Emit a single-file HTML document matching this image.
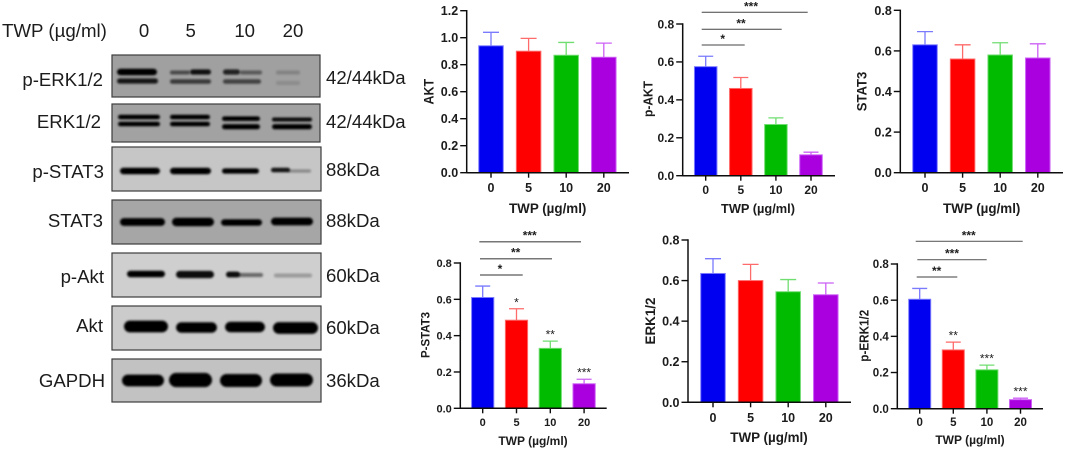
<!DOCTYPE html>
<html lang="en">
<head>
<meta charset="utf-8">
<title>TWP western blot and quantification</title>
<style>
html,body{margin:0;padding:0;background:#fff;}
body{width:1065px;height:449px;overflow:hidden;}
svg{display:block;}
text{font-family:"Liberation Sans",sans-serif;fill:#1c1c1c;}
</style>
</head>
<body>
<svg id="figure" xmlns="http://www.w3.org/2000/svg" width="1065" height="449" viewBox="0 0 1065 449">
<defs>
<filter id="soft" x="-20%" y="-150%" width="140%" height="400%"><feGaussianBlur stdDeviation="1.1"/></filter>
<filter id="jpeg" filterUnits="userSpaceOnUse" x="0" y="0" width="1065" height="449"><feGaussianBlur stdDeviation="0.35"/></filter>
</defs>
<g id="blot" filter="url(#jpeg)"></g>
<g id="charts" filter="url(#jpeg)"></g>
</svg>
<script>
var categories = ['0', '5', '10', '20'];
var barColors = ['#0000f0', '#ff0000', '#00bb00', '#aa00e0'];
var errColors = ['#7a7aff', '#ff6a6a', '#70dd70', '#cc60f5'];

var yTicks08 = [0, 0.2, 0.4, 0.6, 0.8];
var yTicks12 = [0, 0.2, 0.4, 0.6, 0.8, 1.0, 1.2];

var aktValues = [0.94, 0.90, 0.87, 0.855];
var aktErrors = [0.10, 0.095, 0.095, 0.105];
var pAktValues = [0.575, 0.46, 0.27, 0.11];
var pAktErrors = [0.055, 0.058, 0.035, 0.014];
var stat3Values = [0.63, 0.56, 0.58, 0.565];
var stat3Errors = [0.065, 0.07, 0.06, 0.07];
var pStat3Values = [0.61, 0.485, 0.33, 0.135];
var pStat3Errors = [0.063, 0.063, 0.04, 0.025];
var erkValues = [0.635, 0.60, 0.545, 0.53];
var erkErrors = [0.073, 0.08, 0.06, 0.058];
var pErkValues = [0.605, 0.325, 0.215, 0.05];
var pErkErrors = [0.06, 0.043, 0.026, 0.008];

var pStat3Stars = ['', '*', '**', '***'];
var pErkStars = ['', '**', '***', '***'];

var NS = 'http://www.w3.org/2000/svg';
var chartsRoot = document.getElementById('charts');
var blotRoot = document.getElementById('blot');

function mk(parent, tag, attrs, txt) {
  var el = document.createElementNS(NS, tag);
  for (var k in attrs) el.setAttribute(k, attrs[k]);
  if (txt !== undefined) el.textContent = txt;
  parent.appendChild(el);
  return el;
}

function drawChart(p) {
  var g = mk(chartsRoot, 'g', {});
  
  
  var maxV = p.ticks[p.ticks.length - 1];
  function yScale(v) { return p.y0 - (v / maxV) * (p.y0 - p.yTop); }
  function xScale(i) { return p.x0 + i * p.step; }

  p.values.forEach(function (v, i) {
    var cx = xScale(i), top = yScale(v), errTop = yScale(v + p.errors[i]);
    var err = mk(g, 'path', {
      d: 'M' + cx + ' ' + top + 'V' + errTop + 'M' + (cx - p.cap) + ' ' + errTop + 'H' + (cx + p.cap),
      stroke: errColors[i], 'stroke-width': 1.3, fill: 'none'
    });
    
    
    var bar = mk(g, 'rect', {
      x: cx - p.barW / 2, y: top, width: p.barW, height: p.y0 - top,
      fill: barColors[i], stroke: errColors[i], 'stroke-width': 1
    });
    
    
    var tick = mk(g, 'path', { d: 'M' + cx + ' ' + p.y0 + 'v5', stroke: '#111', 'stroke-width': 1.4 });
    
    
    var lab = mk(g, 'text', {
      x: cx, y: p.y0 + p.tickDy, 'text-anchor': 'middle', 'font-size': p.tickSize, 'font-weight': 'bold'
    }, categories[i]);
    
    
    if (p.stars && p.stars[i]) {
      var st = mk(g, 'text', {
        x: cx, y: errTop - p.starDy, 'text-anchor': 'middle', 'font-size': 12, fill: '#333'
      }, p.stars[i]);
      
      
    }
  });

  p.ticks.forEach(function (t) {
    var y = yScale(t);
    var tk = mk(g, 'path', { d: 'M' + (p.axisX - 6.5) + ' ' + y + 'H' + p.axisX, stroke: '#111', 'stroke-width': 1.4 });
    
    
    var lb = mk(g, 'text', {
      x: p.axisX - 8.5, y: y + p.tickSize * 0.36, 'text-anchor': 'end', 'font-size': p.tickSize, 'font-weight': 'bold'
    }, t.toFixed(1));
    
    
  });

  var yAxis = mk(g, 'path', { d: 'M' + p.axisX + ' ' + (p.yTop - 0.7) + 'V' + (p.y0 + 0.7), stroke: '#111', 'stroke-width': 1.5 });
  
  
  var xAxis = mk(g, 'path', { d: 'M' + p.axisX + ' ' + p.y0 + 'H' + p.xEnd, stroke: '#111', 'stroke-width': 1.5 });
  
  

  var yt = mk(g, 'text', {
    x: 0, y: 0, 'text-anchor': 'middle', 'font-size': p.yTitleSize, 'font-weight': 'bold',
    textLength: p.yTitleLen, lengthAdjust: 'spacingAndGlyphs',
    transform: 'translate(' + p.yTitleX + ' ' + p.yTitleY + ') rotate(-90)'
  }, p.title);
  
  
  var xt = mk(g, 'text', {
    x: p.xTitleX, y: p.xTitleY, 'text-anchor': 'middle', 'font-size': p.xTitleSize, 'font-weight': 'bold'
  }, 'TWP (µg/ml)');
  
  

  (p.brackets || []).forEach(function (b) {
    var ln = mk(g, 'path', { d: 'M' + b.a + ' ' + b.y + 'H' + b.b, stroke: p.bracketColor, 'stroke-width': p.bracketW });
    
    
    var s = mk(g, 'text', { x: b.sx, y: b.y - 2, 'text-anchor': 'middle', 'font-size': 12, 'font-weight': 'bold' }, b.s);
    
    
  });
}

drawChart({ name: 'akt', title: 'AKT', values: aktValues, errors: aktErrors, ticks: yTicks12,
  axisX: 466.7, xEnd: 629, y0: 172.7, yTop: 10.7, x0: 491, step: 37.6, barW: 24.5, cap: 8,
  tickSize: 12.5, tickDy: 19.5, yTitleSize: 13.5, yTitleLen: 25.5, yTitleX: 433.3, yTitleY: 91.7,
  xTitleX: 547.7, xTitleY: 213, xTitleSize: 13.4 });

drawChart({ name: 'p-akt', title: 'p-AKT', values: pAktValues, errors: pAktErrors, ticks: yTicks08,
  axisX: 682.7, xEnd: 835, y0: 175.7, yTop: 24, x0: 705.7, step: 35.1, barW: 22.5, cap: 7.5,
  tickSize: 12, tickDy: 18.5, yTitleSize: 12.5, yTitleLen: 36, yTitleX: 652.3, yTitleY: 99,
  xTitleX: 758, xTitleY: 213, xTitleSize: 12.8,
  bracketColor: '#444', bracketW: 1,
  brackets: [
    { a: 701.7, b: 807.7, y: 12.3, sx: 751, s: '***' },
    { a: 701.7, b: 781.7, y: 29.3, sx: 741, s: '**' },
    { a: 701.7, b: 744.7, y: 45, sx: 722.7, s: '*' }
  ] });

drawChart({ name: 'stat3', title: 'STAT3', values: stat3Values, errors: stat3Errors, ticks: yTicks08,
  axisX: 900.3, xEnd: 1063, y0: 172.7, yTop: 10.3, x0: 925, step: 37.6, barW: 24.5, cap: 8,
  tickSize: 12.5, tickDy: 19.5, yTitleSize: 14, yTitleLen: 39.5, yTitleX: 866.7, yTitleY: 91.5,
  xTitleX: 981.7, xTitleY: 213, xTitleSize: 13.4 });

drawChart({ name: 'p-stat3', title: 'P-STAT3', values: pStat3Values, errors: pStat3Errors, ticks: yTicks08,
  axisX: 460.3, xEnd: 606.7, y0: 408.3, yTop: 263, x0: 482.7, step: 33.8, barW: 22.2, cap: 7.5,
  tickSize: 11, tickDy: 17.5, yTitleSize: 12, yTitleLen: 46, yTitleX: 429.3, yTitleY: 335,
  xTitleX: 533, xTitleY: 445, xTitleSize: 12,
  stars: pStat3Stars, starDy: 2.5,
  bracketColor: '#777', bracketW: 1.5,
  brackets: [
    { a: 479.3, b: 581, y: 241.7, sx: 529.7, s: '***' },
    { a: 480, b: 552, y: 258.7, sx: 515.7, s: '**' },
    { a: 480, b: 522.7, y: 275, sx: 500, s: '*' }
  ] });

drawChart({ name: 'erk', title: 'ERK1/2', values: erkValues, errors: erkErrors, ticks: yTicks08,
  axisX: 688, xEnd: 851, y0: 402.3, yTop: 240, x0: 713, step: 37.6, barW: 24.5, cap: 8,
  tickSize: 12.5, tickDy: 19.5, yTitleSize: 14, yTitleLen: 47, yTitleX: 655, yTitleY: 321,
  xTitleX: 769, xTitleY: 442, xTitleSize: 13.4 });

drawChart({ name: 'p-erk', title: 'p-ERK1/2', values: pErkValues, errors: pErkErrors, ticks: yTicks08,
  axisX: 897.3, xEnd: 1043, y0: 408.7, yTop: 264, x0: 919.7, step: 33.6, barW: 22, cap: 7.5,
  tickSize: 11.5, tickDy: 17.5, yTitleSize: 12.5, yTitleLen: 52, yTitleX: 868.3, yTitleY: 335.7,
  xTitleX: 970, xTitleY: 444, xTitleSize: 12,
  stars: pErkStars, starDy: 2.5,
  bracketColor: '#666', bracketW: 1.2,
  brackets: [
    { a: 915.7, b: 1022.7, y: 241.3, sx: 968.7, s: '***' },
    { a: 917.3, b: 986.7, y: 259.7, sx: 952, s: '***' },
    { a: 916.7, b: 957.3, y: 277, sx: 936.7, s: '**' }
  ] });

/* Western blot image, approximated with blurred shapes */
var blotPanels = [
  { name: 'p-erk', left: 'p-ERK1/2', lx: 103, ly: 86, right: '42/44kDa', ry: 84, y: 55, h: 42, fill: '#a0a0a0', w: 208, bands: [
    [117,157,72,5,1],[170,190,72.5,3,.55],[190,211,72,4,.9],[223,240,72,4,.8],[240,262,72.5,3,.45],[276,300,72.5,3,.18],
    [117,158,81,4,.85],[170,211,81.5,3.5,.65],[223,261,81.5,3.5,.6],[276,300,83,3,.12]] },
  { name: 'erk', left: 'ERK1/2', lx: 101, ly: 128, right: '42/44kDa', ry: 128, y: 104, h: 38, fill: '#a2a2a2', w: 208, bands: [
    [118,160,117,3.5,1],[170,210,117,3.5,1],[222,260,118.7,3.5,1],[272,312,119.5,3,.95],
    [118,160,124,3.5,1],[170,210,124,3.5,1],[222,260,126.7,4,1],[272,312,126.7,4,1]] },
  { name: 'p-stat3', left: 'p-STAT3', lx: 104, ly: 178, right: '88kDa', ry: 176, y: 147, h: 44, fill: '#c6c6c6', w: 209, bands: [
    [120,160,171,5,1],[170,211,171,5,1],[222,259,171,4,1],[271,290,170,3.5,.9],[288,311,171,2.5,.3]] },
  { name: 'stat3', left: 'STAT3', lx: 103, ly: 227, right: '88kDa', ry: 227, y: 200, h: 44, fill: '#a6a6a6', w: 209, bands: [
    [120,165,222,6,1],[172,214,222,6.5,1],[221,262,222.5,5,1],[271,313,221.5,6,1]] },
  { name: 'p-akt', left: 'p-Akt', lx: 104, ly: 283, right: '60kDa', ry: 282, y: 253, h: 44, fill: '#cfcfcf', w: 209, bands: [
    [127,165,274,5,1],[176,214,274.5,5.5,.95],[226,240,274.5,4.5,.95],[238,263,275,3,.5],[274,312,275.5,3,.25]] },
  { name: 'akt', left: 'Akt', lx: 103, ly: 332, right: '60kDa', ry: 334, y: 306, h: 44, fill: '#cbcbcb', w: 209, bands: [
    [124,168,326.5,9,1],[176,217,327.5,8,1],[225,265,327,8,1],[273,318,328,9,1]] },
  { name: 'gapdh', left: 'GAPDH', lx: 105, ly: 387, right: '36kDa', ry: 387, y: 359, h: 43, fill: '#c2c2c2', w: 209, bands: [
    [122,164,380.5,9,1],[169,212,380,11,1],[220,262,380.5,10,1],[270,313,380,10,1]] }
];
var blotX = 112;
var bandGrow = 1.3;

blotPanels.forEach(function (pn) {
  var g = mk(blotRoot, 'g', {});
  
  
  var rect = mk(g, 'rect', { x: blotX, y: pn.y, width: pn.w, height: pn.h, fill: pn.fill, stroke: '#3c3c3c', 'stroke-width': 1.2 });
  
  
  pn.bands.forEach(function (b) {
    var bh = b[3] * bandGrow;
    var band = mk(g, 'rect', {
      x: b[0], y: b[2] - bh / 2, width: b[1] - b[0], height: bh, rx: bh / 2,
      fill: '#060606', opacity: b[4], filter: 'url(#soft)'
    });
    
    
  });
  var l = mk(g, 'text', { x: pn.lx, y: pn.ly, 'text-anchor': 'end', 'font-size': 18.6 }, pn.left);
  
  
  var r = mk(g, 'text', { x: 326, y: pn.ry, 'font-size': 18.6 }, pn.right);
  
  
});

var doseHeader = mk(blotRoot, 'text', { x: 2, y: 37, 'font-size': 18.7 }, 'TWP (µg/ml)');



var laneDoses = ['0', '5', '10', '20'];
var laneCenters = [144, 190.7, 244.7, 293];
laneDoses.forEach(function (d, i) {
  var t = mk(blotRoot, 'text', { x: laneCenters[i], y: 37, 'text-anchor': 'middle', 'font-size': 18.6 }, d);
  
  
});
</script>
</body>
</html>
